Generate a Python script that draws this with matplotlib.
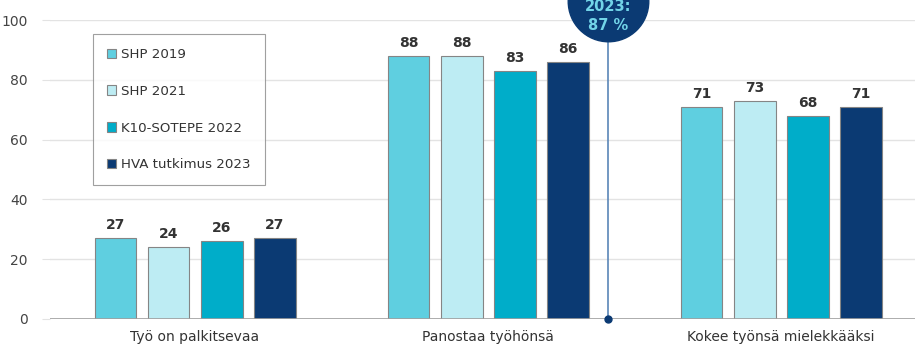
import matplotlib.pyplot as plt
import numpy as np

categories = ["Työ on palkitsevaa", "Panostaa työhönsä", "Kokee työnsä mielekkääksi"]
series = ["SHP 2019", "SHP 2021", "K10-SOTEPE 2022", "HVA tutkimus 2023"]
shp2019 = [27, 88, 71]
shp2021 = [24, 88, 73]
k10_2022 = [26, 83, 68]
hva2023 = [27, 86, 71]
colors = ["#5FCFE0", "#BDECF3", "#00ADC9", "#0B3A73"]
callout_value = 87

fig = plt.figure(figsize=(9.15, 3.49), dpi=100)
ax = fig.add_axes([50 / 915, 30 / 349, 1 - 50 / 915, 299 / 349])

x = np.arange(len(categories))
width = 0.143
step = 0.181
values = [shp2019, shp2021, k10_2022, hva2023]
for i, (vals, name, col) in enumerate(zip(values, series, colors)):
    pos = x + (i - 1.5) * step
    ax.bar(pos, vals, width, color=col, edgecolor="#858585", linewidth=0.8,
           label=name, zorder=3)
    for px, v in zip(pos, vals):
        ax.text(px, v + 2, str(v), ha="center", va="bottom", fontsize=10,
                fontweight="bold", color="#333333")

ax.set_xlim(-0.495, 2.457)
ax.set_ylim(0, 100)
ax.set_yticks(range(0, 101, 20))
ax.yaxis.grid(True, color="#E3E3E3", linewidth=1, zorder=0)
ax.axhline(0, color="#A0A0A0", linewidth=1.2, zorder=4)
for s in ax.spines.values():
    s.set_visible(False)
ax.set_xticks(x)
ax.set_xticklabels(categories, fontsize=10, color="#333333")
ax.tick_params(axis="x", length=0, pad=8)
ax.tick_params(axis="y", length=6, color="#E3E3E3", labelsize=10,
               labelcolor="#444444", pad=10)

# callout for 2023 total
cx = 1.41
ax.plot([cx, cx], [0, 93], color="#5A86B8", linewidth=1.2, zorder=5, clip_on=False)
ax.plot([cx], [0], "o", color="#0B3A73", markersize=5, zorder=6, clip_on=False)
ax.plot([cx], [106.3], "o", color="#0B3A73", markersize=58, zorder=7, clip_on=False,
        markeredgecolor="#0B3A73")
ax.text(cx, 104.6, "2023:", ha="center", va="center", fontsize=10.5, fontweight="bold",
        color="#72D4E8", zorder=8, clip_on=False)
ax.text(cx, 98.0, f"{callout_value} %", ha="center", va="center", fontsize=10.5,
        fontweight="bold", color="#72D4E8", zorder=8, clip_on=False)

leg = ax.legend(loc="upper left", bbox_to_anchor=(43 / 865, 0.953), fontsize=9.6,
                frameon=True, fancybox=False, edgecolor="#888888",
                handlelength=0.7, handleheight=0.7, handletextpad=0.35,
                labelspacing=1.78, borderpad=1.05, borderaxespad=0)
leg.get_frame().set_linewidth(0.8)
for t in leg.get_texts():
    t.set_color("#333333")

fig.savefig("out.png", dpi=100)
